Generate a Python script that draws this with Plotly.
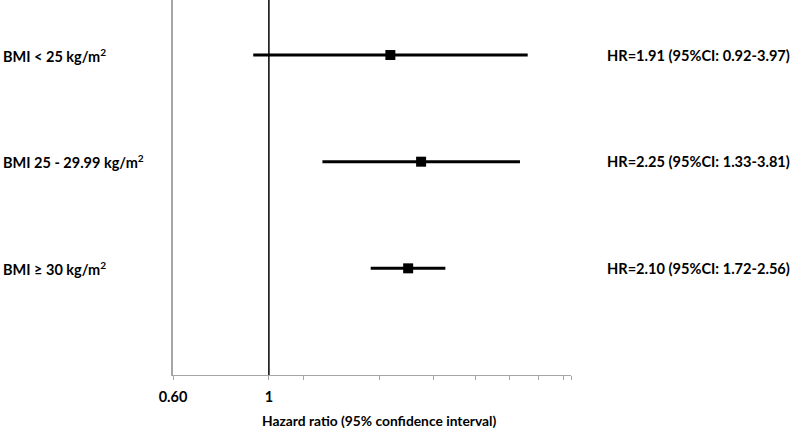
import math
import plotly.graph_objects as go

categories = ["BMI < 25 kg/m<sup>2</sup>", "BMI 25 - 29.99 kg/m<sup>2</sup>", "BMI ≥ 30 kg/m<sup>2</sup>"]
hr = [1.91, 2.25, 2.10]
ci_low = [0.92, 1.33, 1.72]
ci_high = [3.97, 3.81, 2.56]
hr_labels = ["HR=1.91 (95%CI: 0.92-3.97)", "HR=2.25 (95%CI: 1.33-3.81)", "HR=2.10 (95%CI: 1.72-2.56)"]
tick_vals = [0.6, 1.0, 1.2, 1.8, 2.4, 3.0, 3.6, 4.2, 4.8, 5.0]
tick_text = ["0.60", "1", "", "", "", "", "", "", "", ""]
x_min, x_max = 0.6, 5.0

FONT = "Lato"
ycats = [f"r{i}" for i in range(len(categories))]

fig = go.Figure()
fig.add_trace(go.Scatter(
    x=hr, y=ycats, mode="markers",
    marker=dict(symbol="square", size=10, color="black"),
    error_x=dict(type="data", symmetric=False,
                 array=[h - m for h, m in zip(ci_high, hr)],
                 arrayminus=[m - l for m, l in zip(hr, ci_low)],
                 width=0, thickness=3, color="black"),
    showlegend=False, hoverinfo="skip"))

fig.add_shape(type="line", xref="x", yref="paper", x0=1, x1=1, y0=0, y1=1,
              line=dict(color="black", width=1.5))

L, R, T, B = 173, 222, 0, 55
pw = 793 - L - R
ph = 430 - T - B
for c, yc, lab in zip(categories, ycats, hr_labels):
    fig.add_annotation(xref="paper", yref="y", x=-(L - 1) / pw, y=yc, text=c,
                       xanchor="left", yanchor="middle", showarrow=False,
                       font=dict(family=FONT, size=14.5, color="black", weight="bold"))
    fig.add_annotation(xref="paper", yref="y", x=(605 - L) / pw, y=yc, text=lab,
                       xanchor="left", yanchor="middle", showarrow=False,
                       font=dict(family=FONT, size=14.6, color="black", weight="bold"))

fig.add_annotation(xref="paper", yref="paper", x=(379 - L) / pw, y=-(420 - 375) / ph,
                   text="Hazard ratio (95% confidence interval)", showarrow=False,
                   xanchor="center", yanchor="middle",
                   font=dict(family=FONT, size=13.8, color="black", weight="bold"))

fig.update_layout(
    width=793, height=430, margin=dict(l=L, r=R, t=T, b=B),
    paper_bgcolor="white", plot_bgcolor="white",
    xaxis=dict(type="log", range=[math.log10(x_min), math.log10(x_max)],
               tickvals=tick_vals, ticktext=tick_text, ticks="outside", ticklen=4,
               tickcolor="#a6a6a6", showline=True, linecolor="#a6a6a6", linewidth=1,
               showgrid=False, zeroline=False, ticklabelstandoff=5,
               tickfont=dict(family=FONT, size=14.5, color="black", weight="bold")),
    yaxis=dict(type="category", categoryarray=list(reversed(ycats)),
               range=[-1, 2.516], showticklabels=False, ticks="",
               showline=True, linecolor="#a6a6a6", linewidth=1.5,
               showgrid=False, zeroline=False),
)
fig.write_html("out.html", config={"displayModeBar": False},
               post_script="document.body.style.margin='0';")
